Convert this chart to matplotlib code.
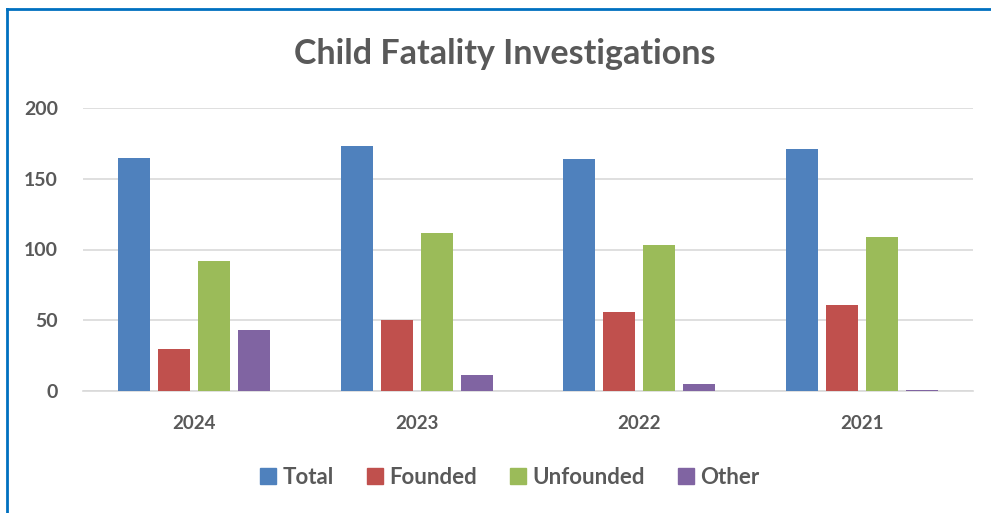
import matplotlib
matplotlib.use("Agg")
import matplotlib.pyplot as plt
import numpy as np
from matplotlib.lines import Line2D

years = ["2024", "2023", "2022", "2021"]
series_names = ["Total", "Founded", "Unfounded", "Other"]
total = [165, 173, 164, 171]
founded = [30, 50, 56, 61]
unfounded = [92, 112, 103, 109]
other = [43, 11, 5, 1]
colors = ["#4F81BD", "#C0504D", "#9BBB59", "#8064A2"]
yticks = [0, 50, 100, 150, 200]

plt.rcParams['font.family'] = ['Lato', 'DejaVu Sans']
txt = "#595959"

fig = plt.figure(figsize=(9.91, 5.13), dpi=100)
ax = fig.add_axes([83/991, 1-391/513, 890/991, (391-108)/513])

x = np.arange(len(years))
w = 32/222.5
step = 40/222.5
for i, (name, vals) in enumerate(zip(series_names, [total, founded, unfounded, other])):
    ax.bar(x + (i-1.5)*step, vals, width=w, color=colors[i], label=name, zorder=3)

ax.set_xlim(-0.5, len(years)-0.5)
ax.set_ylim(0, 200)
ax.set_yticks(yticks)
ax.set_yticklabels([str(t) for t in yticks], fontsize=14, fontweight='bold', color=txt)
ax.set_xticks(x)
ax.set_xticklabels(years, fontsize=13.5, fontweight='bold', color=txt)
ax.tick_params(axis='both', length=0)
ax.tick_params(axis='y', pad=18)
ax.tick_params(axis='x', pad=17)
ax.grid(axis='y', color="#D9D9D9", linewidth=1.2, zorder=0)
for s in ["top", "right", "left"]:
    ax.spines[s].set_visible(False)
ax.spines["bottom"].set_color("#D9D9D9")
ax.spines["bottom"].set_linewidth(1.2)

fig.text(505/991, 1-54/513, "Child Fatality Investigations", ha='center', va='center',
         fontsize=24.5, fontweight='bold', color=txt)

handles = [plt.Rectangle((0, 0), 1, 1, color=c) for c in colors]
fig.legend(handles, series_names, loc='center', bbox_to_anchor=(510/991, 1-477/513),
           ncol=4, frameon=False, handlelength=0.7, handleheight=0.7,
           handletextpad=0.3, columnspacing=1.5,
           prop={'weight': 'bold', 'size': 16})
for t in fig.legends[0].get_texts():
    t.set_color(txt)

# blue frame (top and left edges)
fig.add_artist(Line2D([7/991, 1.0], [1-9/513, 1-9/513], color="#0070C0", linewidth=2, transform=fig.transFigure))
fig.add_artist(Line2D([7/991, 7/991], [0, 1-9/513], color="#0070C0", linewidth=2, transform=fig.transFigure))

fig.savefig("out.png", dpi=100)
